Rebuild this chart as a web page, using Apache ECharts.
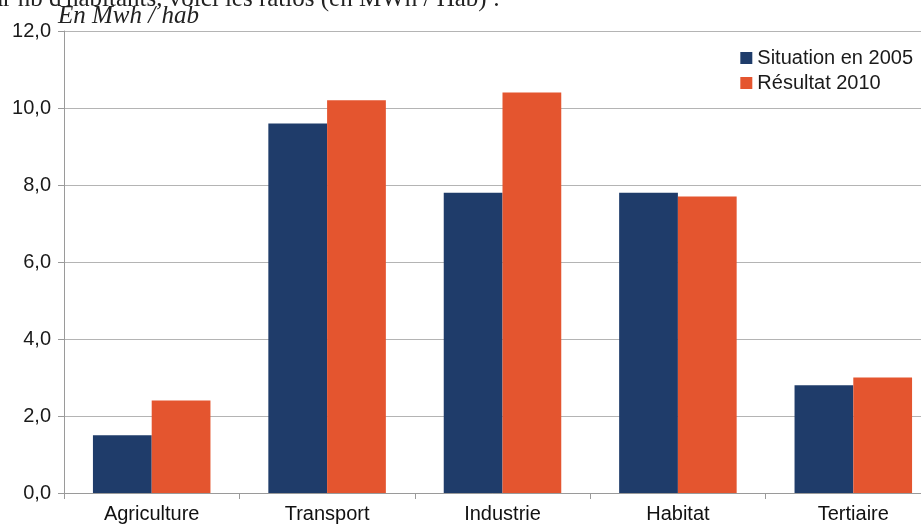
<!DOCTYPE html>
<html>
<head>
<meta charset="utf-8">
<script src="https://cdn.jsdelivr.net/npm/echarts@6/dist/echarts.min.js"></script>
<style>html,body{margin:0;padding:0;background:#fff}#c{width:921px;height:524px}</style>
</head>
<body>
<div id="c"></div>
<script>
const categories = ['Agriculture', 'Transport', 'Industrie', 'Habitat', 'Tertiaire'];
const situation2005 = [1.5, 9.6, 7.8, 7.8, 2.8];
const resultat2010 = [2.4, 10.2, 10.4, 7.7, 3.0];
const seriesNames = ['Situation en 2005', 'Résultat 2010'];
const unitLabel = 'En Mwh / hab';
const headerText = "ar nb d'habitants, voici les ratios (en MWh / Hab) :";

const chart = echarts.init(document.getElementById('c'), null, {renderer: 'canvas'});
const font = 'Liberation Sans, Arial, sans-serif';
chart.setOption({
  animation: false,
  backgroundColor: '#ffffff',
  grid: {left: 64, top: 31, height: 462, width: 877, containLabel: false, outerBoundsMode: 'none'},
  legend: {
    orient: 'vertical', right: 3, top: 43,
    itemWidth: 12, itemHeight: 12, itemGap: 5, icon: 'rect',
    textStyle: {fontSize: 20, color: '#1a1a1a', fontFamily: font},
    data: seriesNames
  },
  graphic: [
    {type: 'text', left: -8, top: -13, style: {text: headerText, font: '25px "Liberation Serif", serif', fill: '#222'}},
    {type: 'text', left: 58, top: 4, style: {text: unitLabel, font: 'italic 25px "Liberation Serif", serif', fill: '#222'}}
  ],
  xAxis: {
    type: 'category', data: categories,
    axisLine: {lineStyle: {color: '#9a9a9a', width: 1}},
    axisTick: {show: true, length: 6, lineStyle: {color: '#9a9a9a'}},
    axisLabel: {fontSize: 20, color: '#111', fontFamily: font, margin: 11}
  },
  yAxis: {
    type: 'value', min: 0, max: 12, interval: 2,
    axisLine: {show: true, lineStyle: {color: '#9a9a9a', width: 1}},
    axisTick: {show: true, length: 6, lineStyle: {color: '#9a9a9a'}},
    splitLine: {lineStyle: {color: '#b4b4b4', width: 1}},
    axisLabel: {fontSize: 20, color: '#1a1a1a', fontFamily: font, margin: 13,
      formatter: v => v.toFixed(1).replace('.', ',')}
  },
  series: [
    {name: seriesNames[0], type: 'bar', data: situation2005, barGap: '0%', barCategoryGap: '33%',
     itemStyle: {color: '#1f3c6a'}},
    {name: seriesNames[1], type: 'bar', data: resultat2010, barGap: '0%', barCategoryGap: '33%',
     itemStyle: {color: '#e4552f'}}
  ]
});
</script>
</body>
</html>
